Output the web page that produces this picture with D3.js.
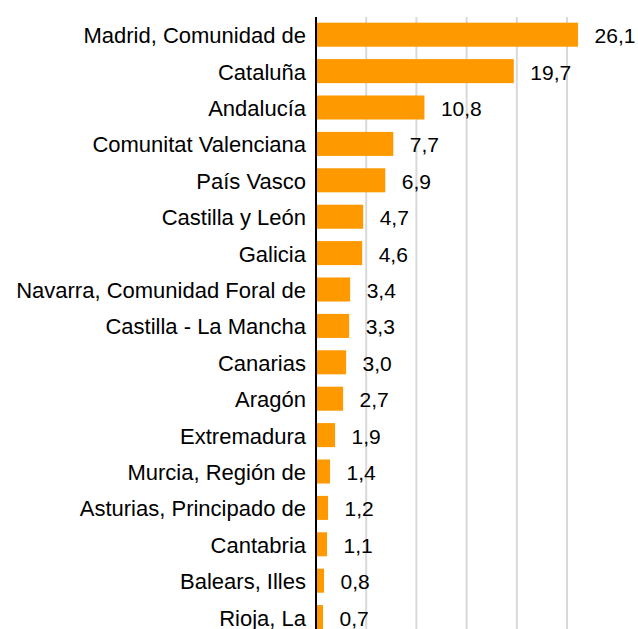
<!DOCTYPE html>
<html><head><meta charset="utf-8">
<script src="https://cdn.jsdelivr.net/npm/d3@7"></script>
<style>html,body{margin:0;padding:0;background:#fff;overflow:hidden}</style>
</head><body>
<svg id="c" width="638" height="629"></svg>
<script>
const categories = ["Madrid, Comunidad de","Cataluña","Andalucía","Comunitat Valenciana","País Vasco","Castilla y León","Galicia","Navarra, Comunidad Foral de","Castilla - La Mancha","Canarias","Aragón","Extremadura","Murcia, Región de","Asturias, Principado de","Cantabria","Balears, Illes","Rioja, La"];
const values = [26.1,19.7,10.8,7.7,6.9,4.7,4.6,3.4,3.3,3.0,2.7,1.9,1.4,1.2,1.1,0.8,0.7];
const gridTicks = [5,10,15,20,25];

const svg = d3.select("#c");
const x = d3.scaleLinear().domain([0,30]).range([316, 617.2]);
const y = d3.scaleBand().domain(categories).range([16.5, 16.5+17*36.4]).paddingInner(0.34).paddingOuter(0.17);
const font = "'Liberation Sans', Arial, sans-serif";
const fmt = v => v.toFixed(1).replace(".", ",");

svg.append("g").selectAll("line").data(gridTicks).join("line")
  .attr("x1", d=>x(d)).attr("x2", d=>x(d)).attr("y1", 17).attr("y2", 640)
  .attr("stroke", "#d9d9d9").attr("stroke-width", 2);

svg.append("g").selectAll("rect").data(values).join("rect")
  .attr("x", x(0)).attr("y", (d,i)=>y(categories[i]))
  .attr("width", d=>x(d)-x(0)).attr("height", y.bandwidth())
  .attr("fill", "#ff9900");

svg.append("line").attr("x1", 316).attr("x2", 316).attr("y1", 17).attr("y2", 640)
  .attr("stroke", "#000").attr("stroke-width", 2);

svg.append("g").selectAll("text").data(categories).join("text")
  .attr("x", 306).attr("y", d=>y(d)+y.bandwidth()/2+8.5)
  .attr("text-anchor", "end").attr("font-family", font).attr("font-size", 22)
  .attr("fill", "#000").text(d=>d);

svg.append("g").selectAll("text").data(values).join("text")
  .attr("x", d=>x(d)+16.5).attr("y", (d,i)=>y(categories[i])+y.bandwidth()/2+8.5)
  .attr("font-family", font).attr("font-size", 21)
  .attr("fill", "#000").text(d=>fmt(d));
</script>
</body></html>
